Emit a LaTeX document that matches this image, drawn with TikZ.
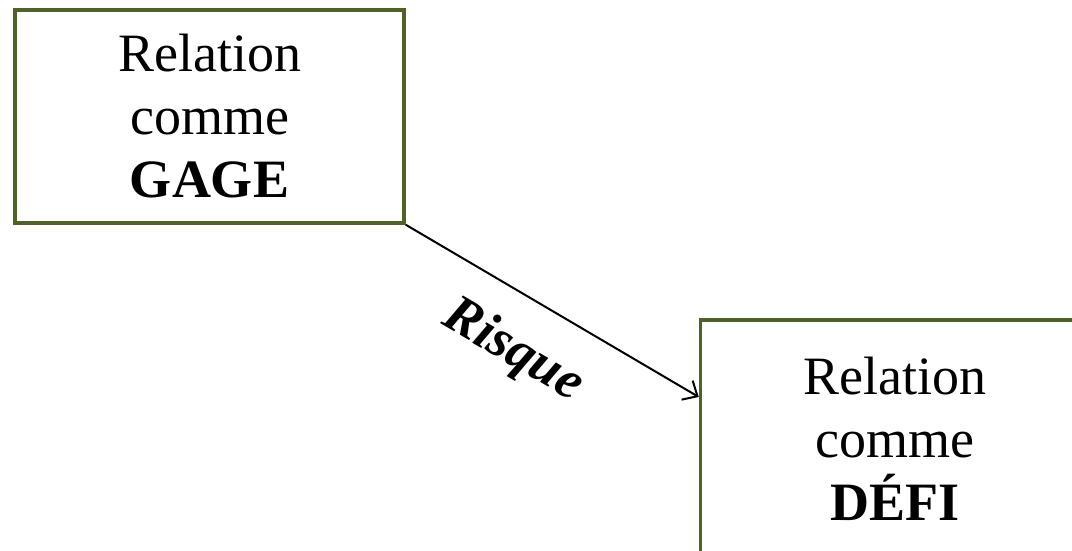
\documentclass[tikz,border=0pt]{standalone}
\usepackage{fontspec}
\setmainfont{Liberation Serif}
\usepackage{tikz}
\usetikzlibrary{arrows.meta}
\definecolor{olivedark}{HTML}{4F6228}
\tikzset{
    relation-box/.style = {draw=olivedark, fill=white, line width=3.5pt, rectangle, minimum width=389pt, align=center, font=\fontsize{54}{63}\selectfont},
    risk-arrow/.style = {black, line width=2pt, -{Straight Barb[length=12pt,width=22pt,line width=2pt]}},
    risk-label/.style = {font=\fontsize{54}{63}\selectfont\bfseries\itshape, sloped, inner sep=0pt},
}

\begin{document}
\begin{tikzpicture}[x=1pt,y=1pt]
\useasboundingbox (0,0) rectangle (1072,551);
\clip (0,0) rectangle (1072,551);
\node [relation-box, minimum height=213pt] (gage) at (209.5,434.5) {Relation\\comme\\\textbf{GAGE}};
\node [relation-box, minimum height=237pt] (defi) at (895,112.5) {Relation\\comme\\\textbf{DÉFI}};
\coordinate (defi-in) at (defi.north west |- 0,154);
\draw [risk-arrow] (gage.south east) -- (defi-in)
    node [risk-label, pos=0.46, yshift=-55pt] (risque) {Risque};
\end{tikzpicture}
\end{document}
